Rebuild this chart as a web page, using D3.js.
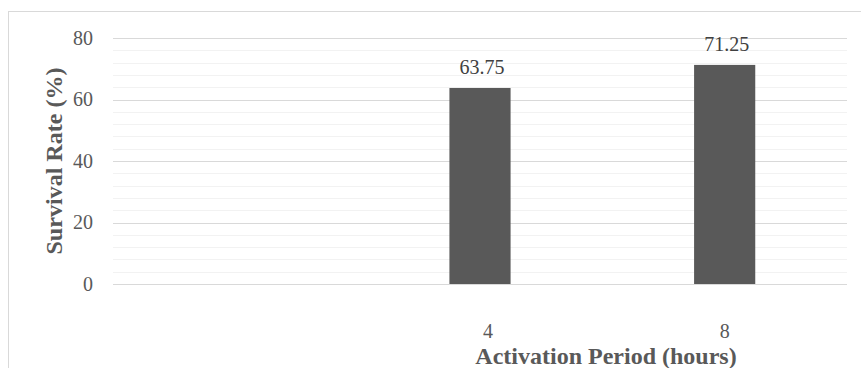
<!DOCTYPE html>
<html>
<head>
<meta charset="utf-8">
<script src="https://cdn.jsdelivr.net/npm/d3@7"></script>
<style>
  html, body { margin: 0; padding: 0; background: #fff; }
  svg { display: block; }
  text { font-family: "Liberation Serif", "Times New Roman", serif; }
</style>
</head>
<body>
<svg id="chart" width="861" height="368"></svg>
<script>
const categories = ["", "4", "8"];
const survival = [null, 63.75, 71.25];
const yTicks = [0, 20, 40, 60, 80];
const yMinorStep = 4;
const yTitle = "Survival Rate (%)";
const xTitle = "Activation Period (hours)";

const W = 861, H = 368;
const plot = { left: 113, right: 847, top: 38, bottom: 284 };
const svg = d3.select("#chart");

// chart border
svg.append("rect")
  .attr("x", 8.5).attr("y", 11.5)
  .attr("width", W).attr("height", H)
  .attr("fill", "#fff").attr("stroke", "#d9d9d9").attr("stroke-width", 1);

const x = d3.scaleBand().domain(categories.map((c, i) => i)).range([plot.left, plot.right]).padding(0);
const y = d3.scaleLinear().domain([0, 80]).range([plot.bottom, plot.top]);

// minor gridlines
const minor = d3.range(0, 80 + 0.001, yMinorStep).filter(v => !yTicks.includes(v));
svg.append("g").selectAll("line").data(minor).join("line")
  .attr("x1", plot.left).attr("x2", plot.right)
  .attr("y1", d => Math.round(y(d)) + 0.5).attr("y2", d => Math.round(y(d)) + 0.5)
  .attr("stroke", "#f2f2f2").attr("stroke-width", 1.2);

// major gridlines
svg.append("g").selectAll("line").data(yTicks).join("line")
  .attr("x1", plot.left).attr("x2", plot.right)
  .attr("y1", d => Math.round(y(d)) + 0.5).attr("y2", d => Math.round(y(d)) + 0.5)
  .attr("stroke", "#d9d9d9").attr("stroke-width", 1.2);

// y axis tick labels
const yAxis = d3.axisLeft(y).tickValues(yTicks).tickSize(0).tickPadding(20);
const gy = svg.append("g").attr("transform", `translate(${plot.left},0)`).call(yAxis);
gy.select(".domain").remove();
gy.selectAll("text")
  .attr("font-family", "Liberation Serif, Times New Roman, serif")
  .attr("font-size", 20).attr("fill", "#595959");

// bars
const data = categories.map((c, i) => ({ i, c, v: survival[i] })).filter(d => d.v != null);
const barW = x.bandwidth() * 0.25;
svg.append("g").selectAll("rect").data(data).join("rect")
  .attr("x", d => x(d.i) + (x.bandwidth() - barW) / 2)
  .attr("width", barW)
  .attr("y", d => y(d.v))
  .attr("height", d => y(0) - y(d.v))
  .attr("fill", "#595959");

// value labels
svg.append("g").selectAll("text").data(data).join("text")
  .attr("x", d => x(d.i) + x.bandwidth() / 2 + 2)
  .attr("y", d => y(d.v) - 14)
  .attr("text-anchor", "middle")
  .attr("font-size", 20).attr("fill", "#404040")
  .text(d => d.v.toFixed(2));

// x axis tick labels
const xAxis = d3.axisBottom(x).tickFormat(i => categories[i]).tickSize(0).tickPadding(0);
const gx = svg.append("g").attr("transform", `translate(0,${plot.bottom})`).call(xAxis);
gx.select(".domain").remove();
gx.selectAll("text")
  .attr("font-family", "Liberation Serif, Times New Roman, serif")
  .attr("font-size", 20).attr("fill", "#595959")
  .attr("dy", null).attr("y", 54)
  .attr("dx", (i, k) => k === 1 ? 8 : 0);

// axis titles
svg.append("text")
  .attr("transform", `translate(62,${(plot.top + plot.bottom) / 2}) rotate(-90)`)
  .attr("text-anchor", "middle")
  .attr("font-size", 23).attr("font-weight", "bold").attr("fill", "#595959")
  .attr("textLength", 187).attr("lengthAdjust", "spacingAndGlyphs")
  .text(yTitle);

svg.append("text")
  .attr("x", 606).attr("y", 364)
  .attr("text-anchor", "middle")
  .attr("font-size", 24).attr("font-weight", "bold").attr("fill", "#595959")
  .text(xTitle);
</script>
</body>
</html>
